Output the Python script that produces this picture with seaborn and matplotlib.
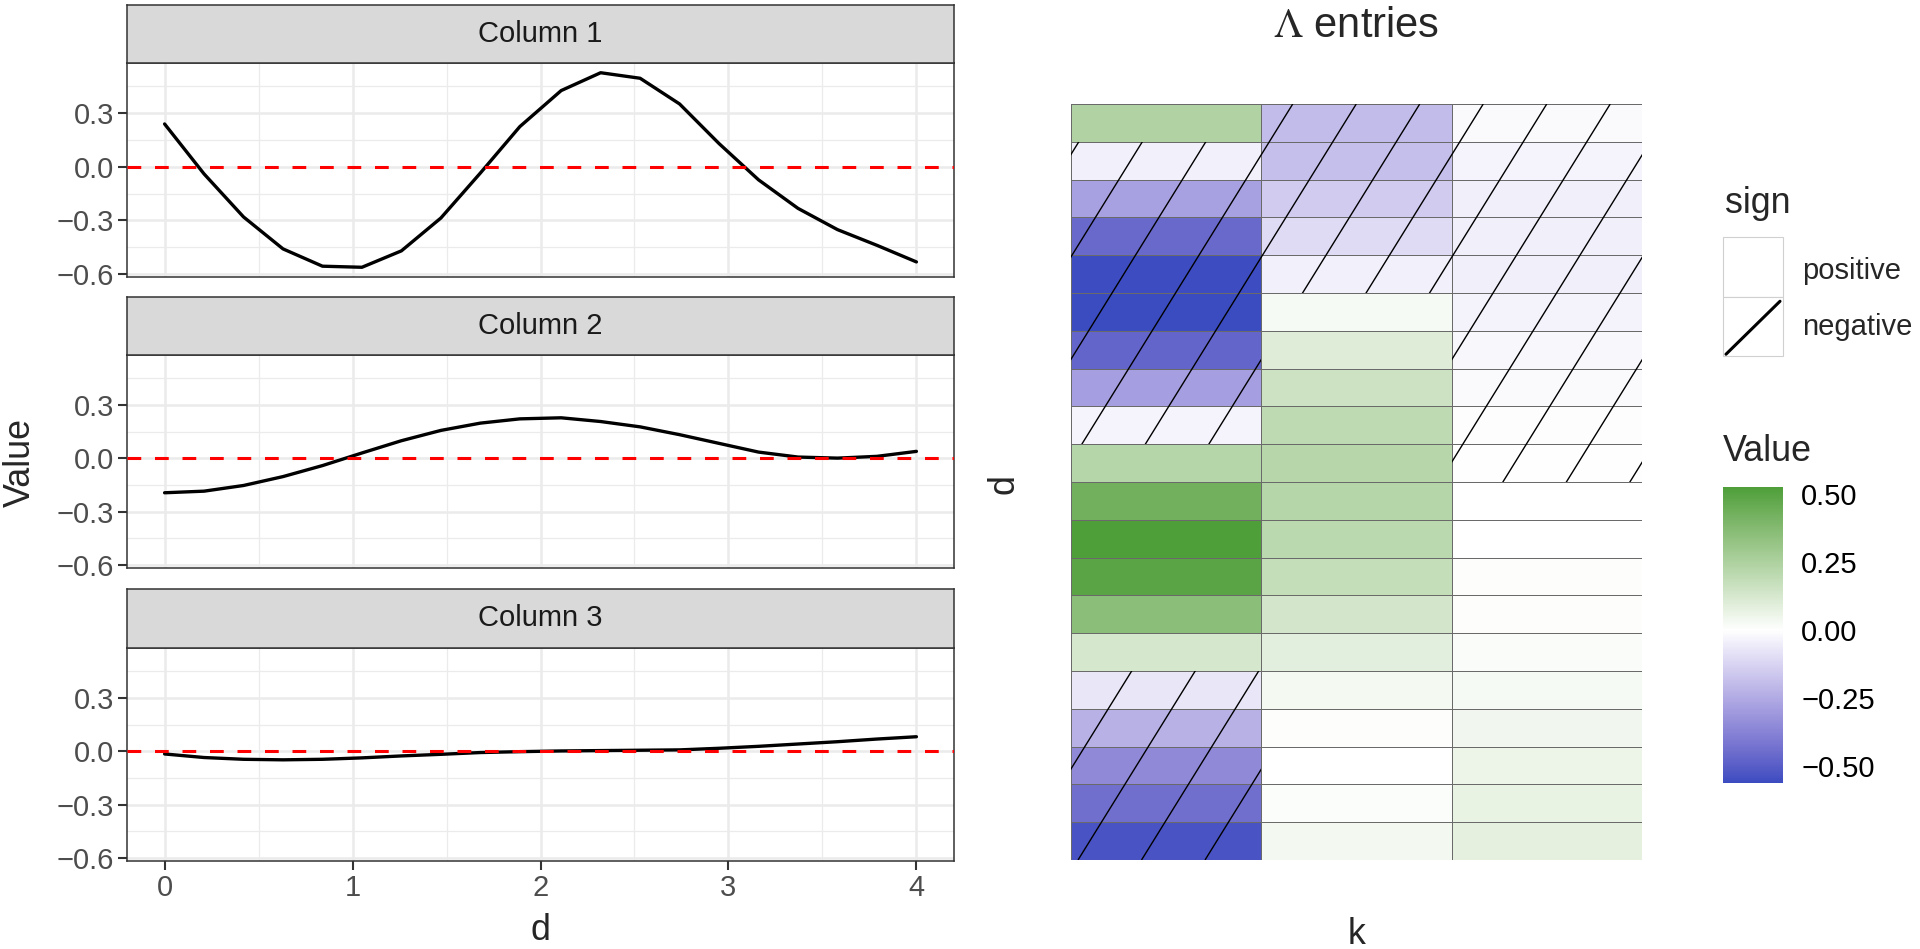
import numpy as np
import pandas as pd
import matplotlib
matplotlib.use("Agg")
import matplotlib.pyplot as plt
import seaborn as sns
from matplotlib.colors import LinearSegmentedColormap, Normalize
from matplotlib.cm import ScalarMappable
from matplotlib.collections import LineCollection
from matplotlib.path import Path
from matplotlib.patches import Rectangle
from matplotlib.transforms import Affine2D

# -----------------------------
# Data
# -----------------------------
d_vals = [0.00, 0.21, 0.42, 0.63, 0.84, 1.05, 1.26, 1.47, 1.68, 1.89,
          2.11, 2.32, 2.53, 2.74, 2.95, 3.16, 3.37, 3.58, 3.79, 4.00]

col1 = [0.240, -0.040, -0.281, -0.460, -0.557, -0.563, -0.471, -0.287, -0.035, 0.225,
        0.427, 0.527, 0.496, 0.352, 0.130, -0.073, -0.233, -0.352, -0.440, -0.533]
col2 = [-0.194, -0.185, -0.153, -0.103, -0.041, 0.030, 0.099, 0.157, 0.198, 0.222,
        0.228, 0.207, 0.177, 0.133, 0.084, 0.035, 0.007, 0.001, 0.011, 0.039]
col3 = [-0.015, -0.035, -0.045, -0.048, -0.045, -0.037, -0.026, -0.017, -0.007, -0.002,
        0.002, 0.004, 0.006, 0.008, 0.017, 0.028, 0.041, 0.054, 0.069, 0.082]

panel_names = ["Column 1", "Column 2", "Column 3"]
sign_labels = ["positive", "negative"]
cbar_ticks = [-0.5, -0.25, 0.0, 0.25, 0.5]

low_col = "#3B4CC0"
high_col = "#3F982B"

BASE = 25.8
SMALL = 21.0

# -----------------------------
# Style
# -----------------------------
sns.set_style("white")
plt.rcParams["font.family"] = ["Liberation Sans", "DejaVu Sans"]
plt.rcParams["mathtext.fontset"] = "stix"

W, H = 1920, 949
fig = plt.figure(figsize=(W / 100, H / 100), dpi=100)


def px_axes(x0, y0, x1, y1):
    return fig.add_axes([x0 / W, 1 - y1 / H, (x1 - x0) / W, (y1 - y0) / H])


# -----------------------------
# Lab gradient (like ggplot's gradient2)
# -----------------------------
M = np.array([[0.4124, 0.3576, 0.1805],
              [0.2126, 0.7152, 0.0722],
              [0.0193, 0.1192, 0.9505]])
WHITE_PT = np.array([0.95047, 1.0, 1.08883])


def to_lab(hexcol):
    rgb = np.array(matplotlib.colors.to_rgb(hexcol))
    lin = np.where(rgb <= 0.04045, rgb / 12.92, ((rgb + 0.055) / 1.055) ** 2.4)
    xyz = M @ lin / WHITE_PT
    f = np.where(xyz > 0.008856, np.cbrt(xyz), 7.787 * xyz + 16 / 116)
    return np.array([116 * f[1] - 16, 500 * (f[0] - f[1]), 200 * (f[1] - f[2])])


def from_lab(lab):
    fy = (lab[0] + 16) / 116
    f = np.array([fy + lab[1] / 500, fy, fy - lab[2] / 200])
    xyz = np.where(f ** 3 > 0.008856, f ** 3, (f - 16 / 116) / 7.787) * WHITE_PT
    lin = np.linalg.solve(M, xyz)
    rgb = np.where(lin <= 0.0031308, 12.92 * lin,
                   1.055 * np.power(np.clip(lin, 0, None), 1 / 2.4) - 0.055)
    return np.clip(rgb, 0, 1)


lab_lo, lab_mid, lab_hi = to_lab(low_col), to_lab("#FFFFFF"), to_lab(high_col)
grad = []
for t in np.linspace(0, 1, 257):
    if t < 0.5:
        grad.append(from_lab(lab_lo + (lab_mid - lab_lo) * (t / 0.5)))
    else:
        grad.append(from_lab(lab_mid + (lab_hi - lab_mid) * ((t - 0.5) / 0.5)))
cmap = LinearSegmentedColormap.from_list("grad2", grad)

all_vals = np.array(col1 + col2 + col3)
dmin, dmax = all_vals.min(), all_vals.max()
lim = np.abs(all_vals).max()

# -----------------------------
# Left: faceted line plots
# -----------------------------
line_df = pd.DataFrame({
    "d": d_vals * 3,
    "value": col1 + col2 + col3,
    "column": np.repeat(panel_names, len(d_vals)),
})

span = dmax - dmin
ylim = (dmin - 0.05 * span, dmax + 0.05 * span)
xlim = (min(d_vals) - 0.05 * (max(d_vals) - min(d_vals)),
        max(d_vals) + 0.05 * (max(d_vals) - min(d_vals)))

panel_px = [(63, 277), (355, 568), (648, 861)]
strip_px = [(5, 63), (297, 355), (589, 648)]
xl, xr = 127, 954

for i, name in enumerate(panel_names):
    ax = px_axes(xl, panel_px[i][0], xr, panel_px[i][1])
    sub = line_df[line_df["column"] == name]
    sns.lineplot(data=sub, x="d", y="value", color="black", linewidth=2.4,
                 ax=ax, zorder=3)
    ax.axhline(0, color="red", linestyle=(0, (4.5, 4.5)), linewidth=2.2, zorder=4)
    ax.set_xlim(*xlim)
    ax.set_ylim(*ylim)
    ax.set_yticks([-0.6, -0.3, 0.0, 0.3])
    ax.set_yticks([-0.45, -0.15, 0.15, 0.45], minor=True)
    ax.set_xticks([0, 1, 2, 3, 4])
    ax.set_xticks([0.5, 1.5, 2.5, 3.5], minor=True)
    ax.set_yticklabels(["\u22120.6", "\u22120.3", "0.0", "0.3"])
    ax.grid(True, which="major", color="#EBEBEB", linewidth=1.8, zorder=0)
    ax.grid(True, which="minor", color="#EBEBEB", linewidth=0.9, zorder=0)
    ax.set_axisbelow(True)
    ax.set_xlabel("")
    ax.set_ylabel("")
    for sp in ax.spines.values():
        sp.set_color("#333333")
        sp.set_linewidth(1.1)
    ax.tick_params(axis="y", which="major", left=True, length=6.5, width=1.5,
                   color="#333333", labelsize=SMALL, labelcolor="#4D4D4D", pad=3)
    ax.tick_params(which="minor", length=0)
    if i < 2:
        ax.tick_params(axis="x", which="major", bottom=False, labelbottom=False)
    else:
        ax.tick_params(axis="x", which="major", bottom=True, length=6.5, width=1.5,
                       color="#333333", labelsize=SMALL, labelcolor="#4D4D4D", pad=3)

    sax = px_axes(xl, strip_px[i][0], xr, strip_px[i][1])
    sax.set_facecolor("#D9D9D9")
    sax.set_xticks([])
    sax.set_yticks([])
    for sp in sax.spines.values():
        sp.set_color("#333333")
        sp.set_linewidth(1.1)
    sax.text(0.5, 0.5, name, ha="center", va="center", fontsize=SMALL,
             color="#1A1A1A", transform=sax.transAxes)

fig.text(20 / W, 1 - 462 / H, "Value", rotation=90, ha="center", va="center",
         fontsize=BASE)
fig.text(540 / W, 1 - 931 / H, "d", ha="center", va="center", fontsize=BASE)

# -----------------------------
# Right: heatmap with hatched negatives
# -----------------------------
heat_df = pd.DataFrame({"Column 1": col1, "Column 2": col2, "Column 3": col3})
hx0, hy0, hx1, hy1 = 1071, 104, 1642, 860
hax = px_axes(hx0, hy0, hx1, hy1)
sns.heatmap(heat_df, ax=hax, cmap=cmap, vmin=-lim, vmax=lim, cbar=False,
            linewidths=0.6, linecolor="#6A6A6A",
            xticklabels=False, yticklabels=False)
hax.set_xlabel("")
hax.set_ylabel("")

neg_paths = []
for j, col in enumerate(heat_df.columns):
    for r, v in enumerate(heat_df[col]):
        if v < 0:
            neg_paths.append(Path.unit_rectangle().transformed(Affine2D().translate(j, r)))
clip = Path.make_compound_path(*neg_paths)

hw, hh = hx1 - hx0, hy1 - hy0
slant, spacing = 0.62, 63.5
segs = []
for k in range(-2, 24):
    u0 = 7.8 - slant * 718.2 + spacing * k
    segs.append([(u0 / hw, 0.0), ((u0 + slant * hh) / hw, 1.0)])
lc = LineCollection(segs, colors="black", linewidths=1.0,
                    transform=hax.transAxes, zorder=3)
hax.add_collection(lc, autolim=False)
lc.set_clip_path(clip, hax.transData)

fig.text(1356 / W, 1 - 26 / H, r"$\Lambda$ entries", ha="center", va="center",
         fontsize=30)
fig.text(1004 / W, 1 - 484 / H, "d", rotation=90, ha="center", va="center",
         fontsize=BASE)
fig.text(1357 / W, 1 - 934 / H, "k", ha="center", va="center", fontsize=BASE)

# -----------------------------
# Legends
# -----------------------------
fig.text(1725 / W, 1 - 213 / H, "sign", ha="left", va="baseline", fontsize=BASE)
lax = px_axes(1723, 237, 1783, 356)
lax.set_xlim(0, 1)
lax.set_ylim(0, 2)
lax.axis("off")
lax.add_patch(Rectangle((0, 1), 1, 1, facecolor="white", edgecolor="#D0D0D0",
                        linewidth=0.8, clip_on=False))
lax.add_patch(Rectangle((0, 0), 1, 1, facecolor="white", edgecolor="#D0D0D0",
                        linewidth=0.8, clip_on=False))
lax.plot([0.05, 0.95], [0.03, 0.92], color="black", linewidth=2.2,
         solid_capstyle="round")
fig.text(1802 / W, 1 - 271 / H, sign_labels[0], ha="left", va="center", fontsize=SMALL)
fig.text(1802 / W, 1 - 327 / H, sign_labels[1], ha="left", va="center", fontsize=SMALL)

fig.text(1723 / W, 1 - 452 / H, "Value", ha="left", va="center", fontsize=BASE)
cax = px_axes(1723, 487, 1783, 783)
cbar = fig.colorbar(ScalarMappable(norm=Normalize(-lim, lim), cmap=cmap), cax=cax)
cbar.outline.set_visible(False)
cbar.set_ticks(cbar_ticks)
cbar.set_ticklabels(["\u22120.50", "\u22120.25", "0.00", "0.25", "0.50"])
cax.set_ylim(dmin, dmax)
cax.minorticks_off()
cax.tick_params(axis="y", which="major", direction="in", left=True, right=True,
                length=8.5, width=1.0, color="white", labelsize=SMALL,
                labelcolor="black", pad=13)

fig.savefig("out.png", dpi=100)
